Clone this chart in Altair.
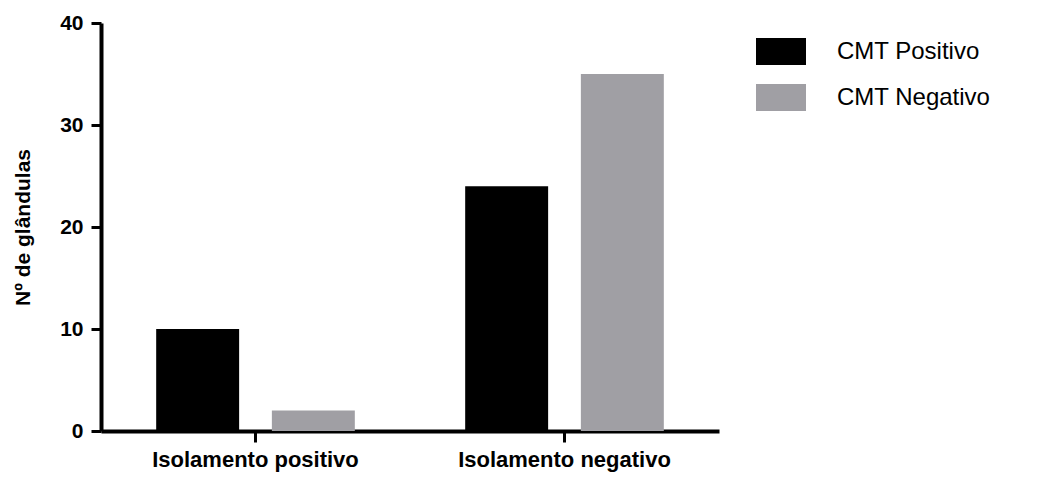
import altair as alt
import pandas as pd

grupos = ["Isolamento positivo", "Isolamento negativo"]
cmt = ["CMT Positivo", "CMT Negativo"]
cmt_positivo = [10, 24]
cmt_negativo = [2, 35]
y_ticks = [0, 10, 20, 30, 40]
cores = ["#000000", "#a09fa4"]

rows = []
for i, g in enumerate(grupos):
    rows.append({"grupo": g, "cmt": cmt[0], "valor": cmt_positivo[i]})
    rows.append({"grupo": g, "cmt": cmt[1], "valor": cmt_negativo[i]})
df = pd.DataFrame(rows)

FONT = "Liberation Sans"

chart = alt.Chart(df).mark_bar().encode(
    x=alt.X(
        "grupo:N",
        sort=grupos,
        scale=alt.Scale(paddingInner=0, paddingOuter=0),
        axis=alt.Axis(
            title=None,
            labelAngle=0,
            labelFont=FONT,
            labelFontSize=22,
            labelFontWeight="bold",
            labelColor="#000000",
            labelPadding=7,
            tickSize=11,
            tickWidth=3,
            tickColor="#000000",
            domainColor="#000000",
            domainWidth=4,
            labelLimit=400,
        ),
    ),
    xOffset=alt.XOffset(
        "cmt:N",
        sort=cmt,
        scale=alt.Scale(paddingInner=0.283, paddingOuter=0.477),
    ),
    y=alt.Y(
        "valor:Q",
        scale=alt.Scale(domain=[0, 40], nice=False),
        axis=alt.Axis(
            title="Nº de glândulas",
            values=y_ticks,
            grid=False,
            labelFont=FONT,
            labelFontSize=21,
            labelFontWeight="bold",
            labelColor="#000000",
            labelPadding=8,
            tickSize=10,
            tickWidth=3,
            tickColor="#000000",
            domainColor="#000000",
            domainWidth=4,
            titleFont=FONT,
            titleFontSize=21,
            titleFontWeight="bold",
            titleColor="#000000",
            titleX=-68,
            titleY=204,
        ),
    ),
    color=alt.Color(
        "cmt:N",
        sort=cmt,
        scale=alt.Scale(domain=cmt, range=cores),
        legend=alt.Legend(
            title=None,
            orient="none",
            legendX=660,
            legendY=8.5,
            padding=0,
            symbolType="M-1.25,-0.675L1.25,-0.675L1.25,0.675L-1.25,0.675Z",
            symbolSize=1600,
            symbolStrokeWidth=0,
            symbolOpacity=1,
            labelOffset=36,
            labelFont=FONT,
            labelFontSize=24,
            labelColor="#000000",
            labelLimit=400,
            rowPadding=12,
        ),
    ),
).properties(
    width=618,
    height=408,
    background="#ffffff",
    autosize=alt.AutoSizeParams(type="none"),
    padding={"left": 93, "top": 15, "right": 316, "bottom": 41},
).configure_view(
    stroke=None
)

chart.save("out.html", embed_options={"renderer": "svg", "actions": False})
